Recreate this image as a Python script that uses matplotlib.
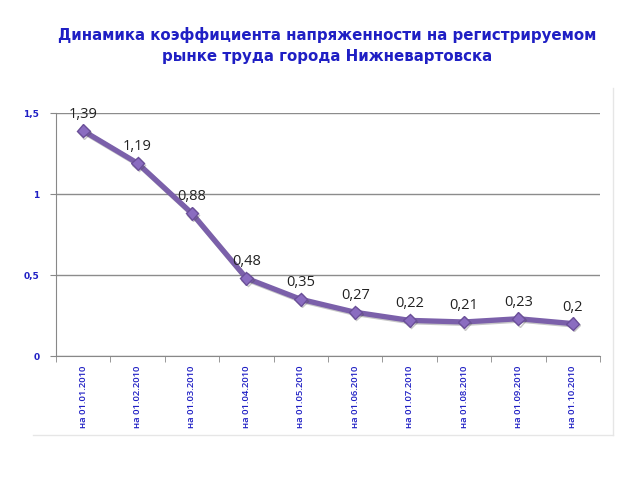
import matplotlib
matplotlib.use("Agg")
import matplotlib.pyplot as plt
import matplotlib.patheffects as pe
from matplotlib.lines import Line2D
import numpy as np

dates = ["на 01.01.2010", "на 01.02.2010", "на 01.03.2010", "на 01.04.2010",
         "на 01.05.2010", "на 01.06.2010", "на 01.07.2010", "на 01.08.2010",
         "на 01.09.2010", "на 01.10.2010"]
values = [1.39, 1.19, 0.88, 0.48, 0.35, 0.27, 0.22, 0.21, 0.23, 0.2]
value_labels = ["1,39", "1,19", "0,88", "0,48", "0,35", "0,27", "0,22", "0,21", "0,23", "0,2"]
yticks = [0, 0.5, 1, 1.5]
ytick_labels = ["0", "0,5", "1", "1,5"]

BLUE = "#1f1fc4"
LINE = "#7b60aa"

fig = plt.figure(figsize=(6.4, 4.8), dpi=100)
fig.patch.set_facecolor("white")
ax = fig.add_axes([56 / 640, 1 - 356 / 480, 544 / 640, 243 / 480])

x = np.arange(len(values))
ax.plot(x, values, color=LINE, linewidth=3.8, marker="D", markersize=6.5,
        markerfacecolor="#8a6cc0", markeredgecolor="#6a4f98", zorder=3,
        path_effects=[pe.SimpleLineShadow(offset=(0.8, -1), shadow_color="#444444", alpha=0.3),
                      pe.Normal()])

for xi, v, lab in zip(x, values, value_labels):
    ax.annotate(lab, (xi, v), xytext=(0, 6.5), textcoords="offset points",
                ha="center", va="bottom", fontsize=10.5, color="#222222",
                family="Open Sans")

ax.set_xlim(-0.5, len(values) - 0.5)
ax.set_ylim(0, 1.5)
ax.set_yticks(yticks)
ax.set_yticklabels(ytick_labels, color=BLUE, fontsize=6.5, fontweight="bold")
ax.set_xticks(x)
ax.set_xticklabels(dates, rotation=90, color=BLUE, fontsize=6.8, family="Open Sans",
                   fontweight="semibold")
ax.set_xticks(np.arange(-0.5, len(values), 1), minor=True)
ax.tick_params(axis="x", which="major", length=0, pad=7)
ax.tick_params(axis="x", which="minor", length=4, color="#888888")
ax.tick_params(axis="y", length=4, color="#888888", pad=8)

ax.grid(axis="y", color="#8c8c8c", linewidth=1)
ax.set_axisbelow(True)
for s in ["top", "right"]:
    ax.spines[s].set_visible(False)
ax.spines["left"].set_color("#888888")
ax.spines["bottom"].set_color("#888888")

# outer chart frame (faint)
fig.add_artist(Line2D([33 / 640, 613 / 640], [1 - 435 / 480, 1 - 435 / 480],
                      color="#e6e6e6", linewidth=1))
fig.add_artist(Line2D([613 / 640, 613 / 640], [1 - 435 / 480, 1 - 88 / 480],
                      color="#e6e6e6", linewidth=1))

fig.text(327 / 640, 1 - 35 / 480, "Динамика коэффициента напряженности на регистрируемом",
         ha="center", va="center", fontsize=10.8, fontweight="bold", color=BLUE)
fig.text(327 / 640, 1 - 57 / 480, "рынке труда города Нижневартовска",
         ha="center", va="center", fontsize=10.8, fontweight="bold", color=BLUE)

fig.savefig("out.png", dpi=100)
